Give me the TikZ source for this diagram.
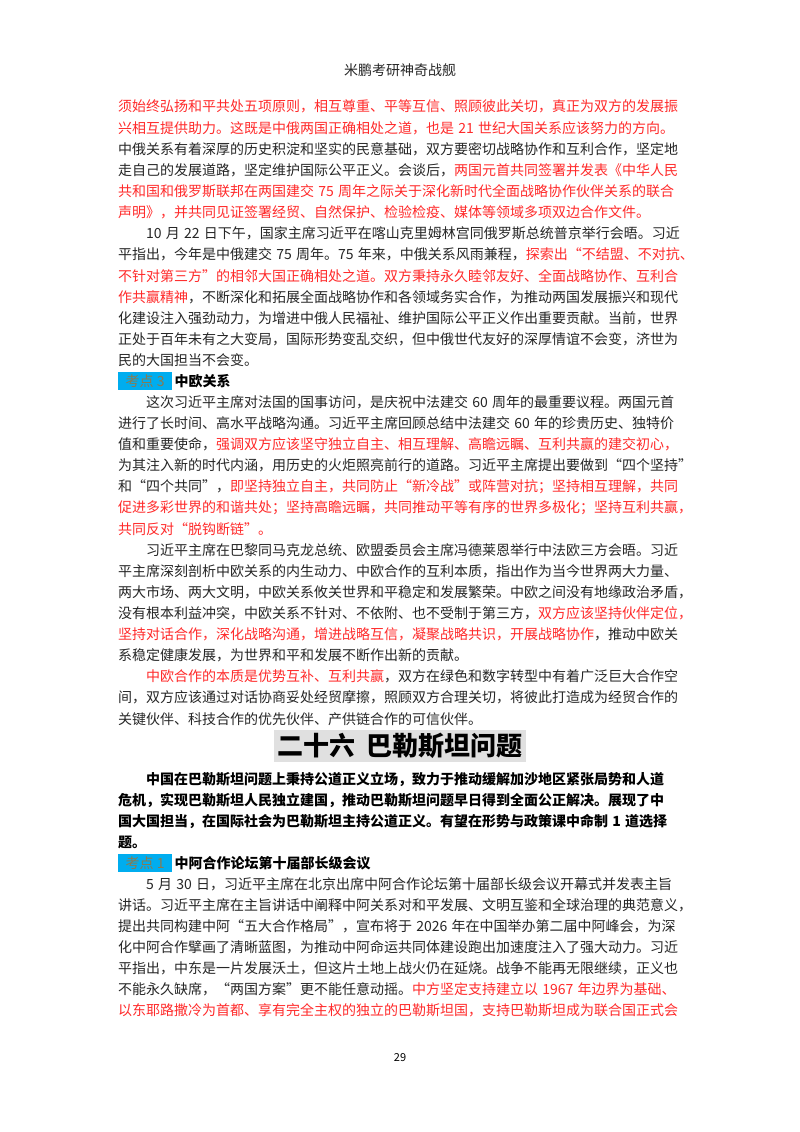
\documentclass[tikz,border=0pt]{standalone}
\usepackage{fontspec}
\setmainfont{Noto Sans CJK SC}
\XeTeXlinebreaklocale "zh"
\XeTeXlinebreakskip=0pt plus 4pt minus 0.6pt
\definecolor{myred}{HTML}{FF2A2A}
\definecolor{bodyc}{HTML}{262626}
\definecolor{kdc}{HTML}{8A7A50}
\newcommand{\R}[1]{\textcolor{myred}{#1}}
\newcommand{\bodyf}{\fontsize{14}{17}\selectfont}
\newcommand{\ind}{\hspace*{28pt}}
\newcommand{\fl}[1]{\hbox to 564pt{\spaceskip=0.3em\relax #1}}
\tikzset{
  ln/.style={anchor=west, inner sep=0, text=bodyc, font=\bodyf},
  lnb/.style={anchor=west, inner sep=0, text=black, font=\bodyf\bfseries},
  kd/.style={anchor=west, inner sep=1pt, fill=cyan, text=kdc, minimum width=54pt, minimum height=18pt, align=left, font=\bodyf},
}
\begin{document}
\begin{tikzpicture}[x=1pt,y=-1pt]
\useasboundingbox (0,0) rectangle (800,1132);
\fill[white] (0,0) rectangle (800,1132);
\node[font=\fontsize{14}{17}\selectfont, text=bodyc] (hd) at (400,70) {米鹏考研神奇战舰};
\node[ln] (l0) at (118,106) {\fl{\R{须始终弘扬和平共处五项原则，相互尊重、平等互信、照顾彼此关切，真正为双方的发展振}}};
\node[ln] (l1) at (118,128.1) {\fl{\R{兴相互提供助力。这既是中俄两国正确相处之道，也是 21 世纪大国关系应该努力的方向。}}};
\node[ln] (l2) at (118,149.2) {\fl{中俄关系有着深厚的历史积淀和坚实的民意基础，双方要密切战略协作和互利合作，坚定地}};
\node[ln] (l3) at (118,170.3) {\fl{走自己的发展道路，坚定维护国际公平正义。会谈后，\R{两国元首共同签署并发表《中华人民}}};
\node[ln] (l4) at (118,191.4) {\fl{\R{共和国和俄罗斯联邦在两国建交 75 周年之际关于深化新时代全面战略协作伙伴关系的联合}}};
\node[ln] (l5) at (118,212.5) {\R{声明》，并共同见证签署经贸、自然保护、检验检疫、媒体等领域多项双边合作文件。}};
\node[ln] (l6) at (118,233.6) {\fl{\ind 10 月 22 日下午，国家主席习近平在喀山克里姆林宫同俄罗斯总统普京举行会晤。习近}};
\node[ln] (l7) at (118,254.7) {\fl{平指出，今年是中俄建交 75 周年。75 年来，中俄关系风雨兼程，\R{探索出“不结盟、不对抗、}}};
\node[ln] (l8) at (118,275.8) {\fl{\R{不针对第三方”的相邻大国正确相处之道。双方秉持永久睦邻友好、全面战略协作、互利合}}};
\node[ln] (l9) at (118,296.9) {\fl{\R{作共赢精神}，不断深化和拓展全面战略协作和各领域务实合作，为推动两国发展振兴和现代}};
\node[ln] (l10) at (118,318) {\fl{化建设注入强劲动力，为增进中俄人民福祉、维护国际公平正义作出重要贡献。当前，世界}};
\node[ln] (l11) at (118,339.1) {\fl{正处于百年未有之大变局，国际形势变乱交织，但中俄世代友好的深厚情谊不会变，济世为}};
\node[ln] (l12) at (118,360.2) {民的大国担当不会变。};
\node[kd] (k3) at (118,381.3) {考点 3};
\node[lnb] (k3t) at ([xshift=2pt]k3.east) {中欧关系};
\node[ln] (l14) at (118,402.4) {\fl{\ind 这次习近平主席对法国的国事访问，是庆祝中法建交 60 周年的最重要议程。两国元首}};
\node[ln] (l15) at (118,423.5) {\fl{进行了长时间、高水平战略沟通。习近平主席回顾总结中法建交 60 年的珍贵历史、独特价}};
\node[ln] (l16) at (118,444.6) {\fl{值和重要使命，\R{强调双方应该坚守独立自主、相互理解、高瞻远瞩、互利共赢的建交初心，}}};
\node[ln] (l17) at (118,465.7) {\fl{为其注入新的时代内涵，用历史的火炬照亮前行的道路。习近平主席提出要做到“四个坚持”}};
\node[ln] (l18) at (118,486.8) {\fl{和“四个共同”，\R{即坚持独立自主，共同防止“新冷战”或阵营对抗；坚持相互理解，共同}}};
\node[ln] (l19) at (118,507.9) {\fl{\R{促进多彩世界的和谐共处；坚持高瞻远瞩，共同推动平等有序的世界多极化；坚持互利共赢，}}};
\node[ln] (l20) at (118,529) {\R{共同反对“脱钩断链”。}};
\node[ln] (l21) at (118,550.1) {\fl{\ind 习近平主席在巴黎同马克龙总统、欧盟委员会主席冯德莱恩举行中法欧三方会晤。习近}};
\node[ln] (l22) at (118,571.2) {\fl{平主席深刻剖析中欧关系的内生动力、中欧合作的互利本质，指出作为当今世界两大力量、}};
\node[ln] (l23) at (118,592.3) {\fl{两大市场、两大文明，中欧关系攸关世界和平稳定和发展繁荣。中欧之间没有地缘政治矛盾，}};
\node[ln] (l24) at (118,613.4) {\fl{没有根本利益冲突，中欧关系不针对、不依附、也不受制于第三方，\R{双方应该坚持伙伴定位，}}};
\node[ln] (l25) at (118,634.5) {\fl{\R{坚持对话合作，深化战略沟通，增进战略互信，凝聚战略共识，开展战略协作}，推动中欧关}};
\node[ln] (l26) at (118,655.6) {系稳定健康发展，为世界和平和发展不断作出新的贡献。};
\node[ln] (l27) at (118,676.7) {\fl{\ind\R{中欧合作的本质是优势互补、互利共赢}，双方在绿色和数字转型中有着广泛巨大合作空}};
\node[ln] (l28) at (118,697.8) {\fl{间，双方应该通过对话协商妥处经贸摩擦，照顾双方合理关切，将彼此打造成为经贸合作的}};
\node[ln] (l29) at (118,718.9) {关键伙伴、科技合作的优先伙伴、产供链合作的可信伙伴。};
\node[fill=black!12, inner xsep=4pt, minimum width=200pt, minimum height=32pt, font=\fontsize{26}{30}\selectfont\bfseries, text=black] (ttl) at (400,746) {二十六\hspace{0.4em}巴勒斯坦问题};
\node[lnb] (b0) at (118,779) {\fl{\ind 中国在巴勒斯坦问题上秉持公道正义立场，致力于推动缓解加沙地区紧张局势和人道}};
\node[lnb] (b1) at (118,800) {\fl{危机，实现巴勒斯坦人民独立建国，推动巴勒斯坦问题早日得到全面公正解决。展现了中}};
\node[lnb] (b2) at (118,821) {\fl{国大国担当，在国际社会为巴勒斯坦主持公道正义。有望在形势与政策课中命制 1 道选择}};
\node[lnb] (b3) at (118,842) {题。};
\node[kd] (k1) at (118,863) {考点 1};
\node[lnb] (k1t) at ([xshift=2pt]k1.east) {中阿合作论坛第十届部长级会议};
\node[ln] (m0) at (118,884) {\fl{\ind 5 月 30 日，习近平主席在北京出席中阿合作论坛第十届部长级会议开幕式并发表主旨}};
\node[ln] (m1) at (118,905) {\fl{讲话。习近平主席在主旨讲话中阐释中阿关系对和平发展、文明互鉴和全球治理的典范意义，}};
\node[ln] (m2) at (118,926) {\fl{提出共同构建中阿“五大合作格局”，宣布将于 2026 年在中国举办第二届中阿峰会，为深}};
\node[ln] (m3) at (118,947) {\fl{化中阿合作擘画了清晰蓝图，为推动中阿命运共同体建设跑出加速度注入了强大动力。习近}};
\node[ln] (m4) at (118,968) {\fl{平指出，中东是一片发展沃土，但这片土地上战火仍在延烧。战争不能再无限继续，正义也}};
\node[ln] (m5) at (118,989) {\fl{不能永久缺席，“两国方案”更不能任意动摇。\R{中方坚定支持建立以 1967 年边界为基础、}}};
\node[ln] (m6) at (118,1010) {\fl{\R{以东耶路撒冷为首都、享有完全主权的独立的巴勒斯坦国，支持巴勒斯坦成为联合国正式会}}};
\node[font=\fontsize{11}{13}\selectfont, text=black] (pn) at (400,1058) {29};
\end{tikzpicture}
\end{document}
